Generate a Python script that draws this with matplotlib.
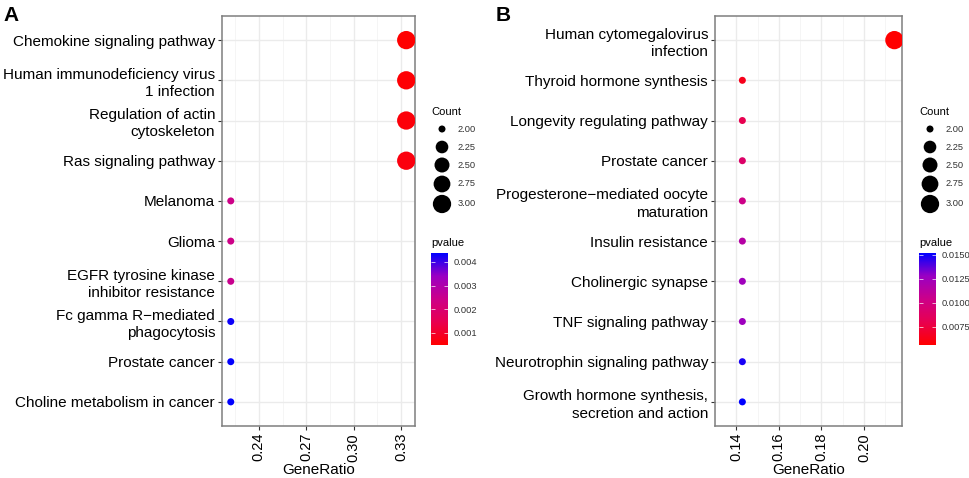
import numpy as np
import matplotlib.pyplot as plt
from matplotlib.colors import LinearSegmentedColormap, Normalize

plt.rcParams['font.family'] = ['Liberation Sans', 'DejaVu Sans']

# panel A
terms_a = ["Chemokine signaling pathway", "Human immunodeficiency virus\n1 infection",
           "Regulation of actin\ncytoskeleton", "Ras signaling pathway", "Melanoma", "Glioma",
           "EGFR tyrosine kinase\ninhibitor resistance", "Fc gamma R\u2212mediated\nphagocytosis",
           "Prostate cancer", "Choline metabolism in cancer"]
ratio_a = [3/9, 3/9, 3/9, 3/9, 2/9, 2/9, 2/9, 2/9, 2/9, 2/9]
count_a = [3, 3, 3, 3, 2, 2, 2, 2, 2, 2]
pval_a = [0.00049, 0.00055, 0.0006, 0.00066, 0.0024, 0.0024, 0.0025, 0.0043, 0.00435, 0.00438]
xticks_a = [0.24, 0.27, 0.30, 0.33]
cbticks_a = [0.001, 0.002, 0.003, 0.004]

# panel B
terms_b = ["Human cytomegalovirus\ninfection", "Thyroid hormone synthesis",
           "Longevity regulating pathway", "Prostate cancer",
           "Progesterone\u2212mediated oocyte\nmaturation", "Insulin resistance",
           "Cholinergic synapse", "TNF signaling pathway", "Neurotrophin signaling pathway",
           "Growth hormone synthesis,\nsecretion and action"]
ratio_b = [3/14, 2/14, 2/14, 2/14, 2/14, 2/14, 2/14, 2/14, 2/14, 2/14]
count_b = [3, 2, 2, 2, 2, 2, 2, 2, 2, 2]
pval_b = [0.0056, 0.0064, 0.0080, 0.0090, 0.0103, 0.0115, 0.0125, 0.0126, 0.0148, 0.0152]
xticks_b = [0.14, 0.16, 0.18, 0.20]
cbticks_b = [0.0075, 0.0100, 0.0125, 0.0150]

legend_counts = [2.00, 2.25, 2.50, 2.75, 3.00]

# red -> blue like ggplot (Lab interpolation approx)
cmap = LinearSegmentedColormap.from_list(
    "rb", ["#FF0000", "#E80050", "#CC0089", "#9A00C3", "#0000FF"])

W, H = 969, 478
DPI = 100


def size_pts(c):
    # diameter in px -> marker area in pt^2
    d = 7 + 11.3 * np.sqrt((np.asarray(c, float) - 2.0) / 1.0)
    return (d * 72 / DPI) ** 2


def fig_rect(x0, y0, x1, y1):
    return [x0 / W, 1 - y1 / H, (x1 - x0) / W, (y1 - y0) / H]


fig = plt.figure(figsize=(W / DPI, H / DPI), dpi=DPI)

panels = [
    (terms_a, ratio_a, count_a, pval_a, xticks_a, cbticks_a, (222, 16, 415, 426), 431, "A", 3,
     "%.3f"),
    (terms_b, ratio_b, count_b, pval_b, xticks_b, cbticks_b, (715, 16, 902, 426), 919, "B", 496,
     "%.4f"),
]

overlay = fig.add_axes([0, 0, 1, 1])
overlay.set_xlim(0, W)
overlay.set_ylim(H, 0)
overlay.axis("off")

for terms, ratio, count, pval, xt, cbt, box, lx, tag, tagx, fmt in panels:
    ax = fig.add_axes(fig_rect(*box))
    n = len(terms)
    y = np.arange(n)
    norm = Normalize(min(pval), max(pval))
    ax.scatter(ratio, y, s=size_pts(count), c=pval, cmap=cmap, norm=norm,
               edgecolors="none", zorder=3)
    lo, hi = min(ratio), max(ratio)
    pad = (hi - lo) * 0.05
    ax.set_xlim(lo - pad, hi + pad)
    ax.set_ylim(n - 0.4, -0.6)
    ax.set_yticks(y)
    ax.set_yticklabels(terms, fontsize=11, linespacing=1.3)
    ax.set_xticks(xt)
    ax.set_xticklabels(["%.2f" % v for v in xt], rotation=90, fontsize=10.5)
    step = xt[1] - xt[0]
    minors = np.arange(xt[0] - step / 2, hi + pad, step)
    ax.set_xticks(minors, minor=True)
    ax.tick_params(axis="x", which="minor", length=0)
    ax.grid(True, which="major", color="#EBEBEB", linewidth=1.0, zorder=0)
    ax.grid(True, which="minor", axis="x", color="#F4F4F4", linewidth=0.6, zorder=0)
    ax.set_axisbelow(True)
    ax.tick_params(axis="both", which="major", length=3, width=0.8, color="#333333",
                   labelcolor="black", pad=2)
    for sp in ax.spines.values():
        sp.set_color("#7F7F7F")
        sp.set_linewidth(1.1)
    ax.set_xlabel("GeneRatio", fontsize=11, labelpad=1)

    fig.text(tagx / W, 1 - 6 / H, tag, fontsize=15, fontweight="bold", va="top", ha="left")

    # size legend
    overlay.text(lx, 112, "Count", fontsize=8, va="center", ha="left")
    ly = [129, 147, 165, 184, 204]
    overlay.scatter([lx + 11] * len(ly), ly, s=size_pts(legend_counts), c="black",
                    edgecolors="none")
    for v, yy in zip(legend_counts, ly):
        overlay.text(lx + 27, yy, "%.2f" % v, fontsize=6.7, color="#333333",
                     va="center", ha="left")

    # colour bar
    overlay.text(lx, 243, "pvalue", fontsize=8, va="center", ha="left")
    cax = fig.add_axes(fig_rect(lx, 253, lx + 17, 345))
    sm = plt.cm.ScalarMappable(norm=norm, cmap=cmap)
    cb = fig.colorbar(sm, cax=cax, ticks=cbt)
    cb.outline.set_visible(False)
    cax.yaxis.set_ticks_position("both")
    cax.tick_params(axis="y", direction="in", length=3, width=0.7, color="#FFFFFFB0",
                    labelsize=6.7, labelcolor="#333333", pad=4)
    cax.set_yticklabels([fmt % v for v in cbt])

fig.savefig("out.png", dpi=DPI)
